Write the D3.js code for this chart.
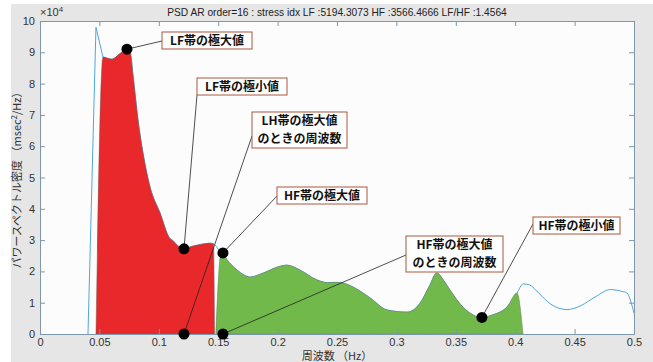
<!DOCTYPE html>
<html>
<head>
<meta charset="utf-8">
<script src="https://cdn.jsdelivr.net/npm/d3@7"></script>
<style>
  body { margin: 0; background: #fff; }
  svg text { font-family: "Liberation Sans", Arial, sans-serif; }
  .ja { font-family: "Noto Sans CJK JP", "Noto Sans", sans-serif; }
</style>
</head>
<body>
<svg id="chart" width="653" height="362"></svg>
<script>
// PSD samples (frequency Hz, power x10^4 msec^2/Hz)
var freq = [0.0404, 0.0471, 0.0530, 0.0606, 0.0670, 0.0732, 0.0760, 0.0785, 0.0825, 0.0867,
            0.0926, 0.1010, 0.1090, 0.1120, 0.1160, 0.1212, 0.1280, 0.1350, 0.1430, 0.1460,
            0.1524, 0.1600, 0.1660, 0.1770, 0.1880, 0.2000, 0.2080, 0.2190, 0.2330, 0.2420,
            0.2500, 0.2560, 0.2635, 0.2780, 0.2920, 0.3090, 0.3200, 0.3280, 0.3340, 0.3400,
            0.3450, 0.3560, 0.3650, 0.3720, 0.3810, 0.3930, 0.4015, 0.4066, 0.4120, 0.4200,
            0.4300, 0.4436, 0.4550, 0.4680, 0.4800, 0.4900, 0.4940, 0.5000];
var psd  = [0.00, 9.80, 8.85, 8.78, 8.95, 9.10, 8.98, 8.20, 6.84, 5.78,
            4.70, 3.87, 3.07, 2.98, 2.82, 2.72, 2.80, 2.86, 2.90, 2.88,
            2.58, 2.25, 2.04, 1.82, 1.95, 2.14, 2.20, 2.04, 1.73, 1.64,
            1.65, 1.62, 1.50, 1.15, 0.77, 0.70, 0.99, 1.55, 1.95, 1.70,
            1.41, 0.86, 0.60, 0.53, 0.61, 0.86, 1.31, 1.60, 1.57, 1.30,
            0.95, 0.78, 0.90, 1.20, 1.42, 1.36, 1.31, 0.67];

// band edges for filled areas [start, end] (Hz)
var lfBand = [0.0471, 0.1470];
var hfBand = [0.1480, 0.4066];

var xTicks = [0, 0.05, 0.1, 0.15, 0.2, 0.25, 0.3, 0.35, 0.4, 0.45, 0.5];
var yTicks = [0, 1, 2, 3, 4, 5, 6, 7, 8, 9, 10];

var titleText = "PSD AR order=16 : stress idx LF :5194.3073 HF :3566.4666 LF/HF :1.4564";

// annotated points: label lines, point (Hz, x10^4)
var annLabels = [["LF帯の極大値"], ["LF帯の極小値"], ["LH帯の極大値", "のときの周波数"],
                 ["HF帯の極大値"], ["HF帯の極大値", "のときの周波数"], ["HF帯の極小値"]];
var annPoints = [[0.0732, 9.10], [0.1212, 2.72], [0.1212, 0], [0.1540, 2.59], [0.1540, 0], [0.3720, 0.53]];
// box layout: x, y, w, h, and anchor for the leader line
var annBoxes = [[162, 32, 90, 17, 162, 41], [197, 78, 90, 17, 197, 95], [252, 112, 95, 36, 252, 136],
                [277, 187, 90, 17, 277, 196], [406, 236, 97, 36, 406, 255], [533, 217, 87, 17, 533, 224]];

var svg = d3.select("#chart");
var margin = {left: 40, top: 21, right: 19, bottom: 28};
var W = 653, H = 362;

svg.append("rect").attr("x", 11).attr("y", 4).attr("width", W - 11).attr("height", H - 4)
   .style("fill", "#e6e6e6");

var x = d3.scaleLinear().domain([0, 0.5]).range([margin.left, W - margin.right]);
var y = d3.scaleLinear().domain([0, 10]).range([H - margin.bottom, margin.top]);

svg.append("rect")
   .attr("x", x(0)).attr("y", y(10))
   .attr("width", x(0.5) - x(0)).attr("height", y(0) - y(10))
   .style("fill", "#fcfcfd");

var pts = freq.map(function(f, i) { return {f: f, v: psd[i]}; });

function bandPts(band) {
  var inner = pts.filter(function(d) { return d.f > band[0] && d.f < band[1]; });
  return [{f: band[0], v: 0}].concat(inner, [{f: band[1], v: 0}]);
}

var area = d3.area()
    .x(function(d) { return x(d.f); })
    .y0(y(0))
    .y1(function(d) { return y(d.v); })
    .curve(d3.curveMonotoneX);

var line = d3.line()
    .x(function(d) { return x(d.f); })
    .y(function(d) { return y(d.v); })
    .curve(d3.curveMonotoneX);

// the spike at the start is drawn straight, the rest smooth
svg.append("path").datum(pts.slice(0, 3))
   .attr("d", line.curve(d3.curveLinear))
   .style("fill", "none").style("stroke", "#4ea6dc").style("stroke-width", 1);
line.curve(d3.curveMonotoneX);
svg.append("path").datum(pts.slice(2))
   .attr("d", line)
   .style("fill", "none").style("stroke", "#4ea6dc").style("stroke-width", 1);

svg.append("path").datum(bandPts(lfBand))
   .attr("d", area)
   .style("fill", "#e8282a").style("stroke", "#7a5a5a").style("stroke-width", 0.5);

svg.append("path").datum(bandPts(hfBand))
   .attr("d", area)
   .style("fill", "#71b94b").style("stroke", "#6a7a60").style("stroke-width", 0.5);

// axes (ticks inside, box on)
var axisColor = "#7d97ac";
function styleAxis(g) {
  g.select(".domain").style("stroke", axisColor);
  g.selectAll(".tick line").style("stroke", axisColor);
  g.selectAll(".tick text").style("fill", "#333").style("font-size", "11px");
}
svg.append("g").attr("transform", "translate(0," + y(0) + ")")
   .call(d3.axisBottom(x).tickValues(xTicks).tickFormat(d3.format("~g")).tickSizeInner(-5).tickSizeOuter(0).tickPadding(4))
   .call(styleAxis);
svg.append("g").attr("transform", "translate(0," + y(10) + ")")
   .call(d3.axisTop(x).tickValues(xTicks).tickFormat("").tickSizeInner(-5).tickSizeOuter(0))
   .call(styleAxis);
svg.append("g").attr("transform", "translate(" + x(0) + ",0)")
   .call(d3.axisLeft(y).tickValues(yTicks).tickSizeInner(-5).tickSizeOuter(0).tickPadding(5))
   .call(styleAxis);
svg.append("g").attr("transform", "translate(" + x(0.5) + ",0)")
   .call(d3.axisRight(y).tickValues(yTicks).tickFormat("").tickSizeInner(-5).tickSizeOuter(0))
   .call(styleAxis);

// exponent
var ex = svg.append("text").attr("x", x(0)).attr("y", y(10) - 5)
   .style("font-size", "11px").style("fill", "#333");
ex.append("tspan").text("×10");
ex.append("tspan").attr("dy", -4).style("font-size", "8px").text("4");

// title
svg.append("text").attr("x", (x(0) + x(0.5)) / 2).attr("y", 16)
   .attr("text-anchor", "middle").style("font-size", "10.2px").style("fill", "#222")
   .text(titleText);

// axis labels
svg.append("text").attr("class", "ja")
   .attr("x", (x(0) + x(0.5)) / 2).attr("y", 360)
   .attr("text-anchor", "middle").style("font-size", "11px").style("fill", "#333")
   .text("周波数 （Hz）");

var yl = svg.append("text").attr("class", "ja")
   .attr("transform", "translate(21," + ((y(0) + y(10)) / 2) + ") rotate(-90)")
   .attr("text-anchor", "middle").style("font-size", "11px").style("fill", "#333");
yl.append("tspan").text("パワースペクトル密度 （msec");
yl.append("tspan").attr("dy", -4).style("font-size", "8px").text("2");
yl.append("tspan").attr("dy", 4).text("/Hz）");

// annotations
var ann = svg.append("g");
annPoints.forEach(function(p, i) {
  var b = annBoxes[i];
  ann.append("line")
     .attr("x1", x(p[0])).attr("y1", y(p[1]))
     .attr("x2", b[4]).attr("y2", b[5])
     .style("stroke", "#222").style("stroke-width", 0.8);
});
annPoints.forEach(function(p) {
  ann.append("circle").attr("cx", x(p[0])).attr("cy", y(p[1])).attr("r", 5.5)
     .style("fill", "#000");
});
annLabels.forEach(function(lines, i) {
  var b = annBoxes[i];
  ann.append("rect").attr("x", b[0]).attr("y", b[1]).attr("width", b[2]).attr("height", b[3])
     .style("fill", "#fff").style("stroke", "#a9573c").style("stroke-width", 1);
  var t = ann.append("text").attr("class", "ja")
     .attr("text-anchor", "middle")
     .style("font-size", "12px").style("font-weight", "bold").style("fill", "#111");
  lines.forEach(function(s, j) {
    t.append("tspan").attr("x", b[0] + b[2] / 2).attr("y", b[1] + 13 + j * 17.5).text(s);
  });
});
</script>
</body>
</html>
